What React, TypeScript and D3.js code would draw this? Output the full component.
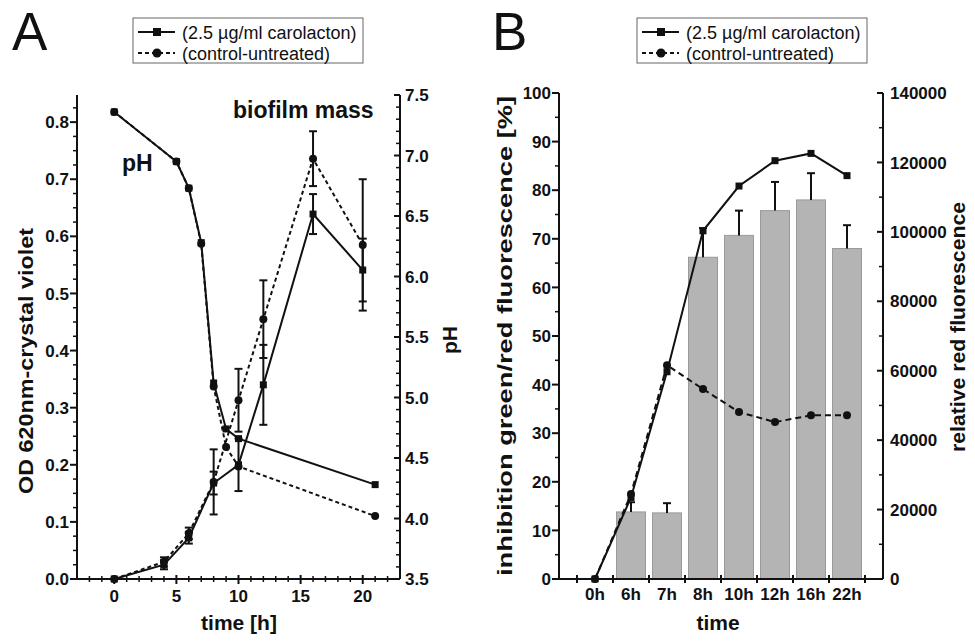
import React from "react";
import * as d3 from "d3";

// ---------- Panel A data ----------
const TIME_A = [0, 4, 6, 8, 10, 12, 16, 20];
const OD_CARO = [0, 0.025, 0.072, 0.168, 0.2, 0.34, 0.639, 0.541];
const OD_CARO_ERR = [0, 0.008, 0.01, 0.02, 0.046, 0.07, 0.035, 0.055];
const OD_CTRL = [0, 0.03, 0.08, 0.17, 0.313, 0.455, 0.736, 0.585];
const OD_CTRL_ERR = [0, 0.008, 0.01, 0.057, 0.055, 0.068, 0.048, 0.115];
const TIME_PH = [0, 5, 6, 7, 8, 9, 10, 21];
const PH_CARO = [7.36, 6.95, 6.73, 6.28, 5.12, 4.74, 4.66, 4.28];
const PH_CTRL = [7.36, 6.95, 6.73, 6.27, 5.09, 4.59, 4.43, 4.02];

const A_X_TICKS = [0, 5, 10, 15, 20];
const A_OD_TICKS = [0, 0.1, 0.2, 0.3, 0.4, 0.5, 0.6, 0.7, 0.8];
const A_PH_TICKS = [3.5, 4.0, 4.5, 5.0, 5.5, 6.0, 6.5, 7.0, 7.5];

// ---------- Panel B data ----------
const CATS_B = ["0h", "6h", "7h", "8h", "10h", "12h", "16h", "22h"];
const INHIB: (number | null)[] = [null, 13.8, 13.6, 66.2, 70.7, 75.8, 78.0, 68.0];
const INHIB_ERR: (number | null)[] = [null, 2.0, 2.0, 6.0, 5.1, 5.9, 5.5, 4.8];
const RED_CARO = [0, 23500, 59700, 100300, 113200, 120500, 122600, 116200];
const RED_CTRL = [0, 24500, 61600, 54700, 48100, 45200, 47150, 47150];

const B_PCT_TICKS = [0, 10, 20, 30, 40, 50, 60, 70, 80, 90, 100];
const B_RED_TICKS = [0, 20000, 40000, 60000, 80000, 100000, 120000, 140000];

const LEGEND = ["(2.5 µg/ml carolacton)", "(control-untreated)"];

const FONT = "'Liberation Sans', Arial, Helvetica, sans-serif";
const INK = "#111";

function Square({ x, y, s = 7 }: { x: number; y: number; s?: number }) {
  return <rect x={x - s / 2} y={y - s / 2} width={s} height={s} fill={INK} />;
}
function Dot({ x, y, r = 4 }: { x: number; y: number; r?: number }) {
  return <circle cx={x} cy={y} r={r} fill={INK} />;
}

function Legend({ x, y }: { x: number; y: number }) {
  return (
    <g transform={`translate(${x},${y})`}>
      <rect x={0} y={0} width={230} height={45} fill="#fff" stroke="#666" strokeWidth={1} />
      <line x1={5} x2={42} y1={14} y2={14} stroke={INK} strokeWidth={2} />
      <Square x={24} y={14} s={8} />
      <line x1={5} x2={42} y1={35} y2={35} stroke={INK} strokeWidth={2} strokeDasharray="4,3" />
      <Dot x={24} y={35} r={4.5} />
      <text x={49} y={20.5} fontSize={18} fontFamily={FONT} fill={INK}>{LEGEND[0]}</text>
      <text x={49} y={41.5} fontSize={18} fontFamily={FONT} fill={INK}>{LEGEND[1]}</text>
    </g>
  );
}

function PanelA() {
  const left = 77, right = 400, top = 95, bottom = 579;
  const x = d3.scaleLinear().domain([-3, 23]).range([left, right]);
  const yOD = d3.scaleLinear().domain([0, 0.8475]).range([bottom, top]);
  const yPH = d3.scaleLinear().domain([3.5, 7.5]).range([bottom, top]);

  const odLine = d3.line<[number, number]>().x((d) => x(d[0])).y((d) => yOD(d[1]));
  const phLine = d3.line<[number, number]>().x((d) => x(d[0])).y((d) => yPH(d[1]));

  const odCaro = TIME_A.map((t, i) => [t, OD_CARO[i]] as [number, number]);
  const odCtrl = TIME_A.map((t, i) => [t, OD_CTRL[i]] as [number, number]);
  const phCaro = TIME_PH.map((t, i) => [t, PH_CARO[i]] as [number, number]);
  const phCtrl = TIME_PH.map((t, i) => [t, PH_CTRL[i]] as [number, number]);

  const xMinor = d3.range(-2, 23, 1).filter((v) => v % 5 !== 0);
  const odMinor = d3.range(0, 0.8475, 0.025).filter((_, i) => i % 4 !== 0);
  const phMinor = d3.range(3.5, 7.5, 0.1).filter((_, i) => i % 5 !== 0);

  const errBar = (t: number, v: number, e: number, key: string) => {
    if (!e) return null;
    const cx = x(t);
    const y1 = yOD(v - e), y2 = yOD(v + e);
    return (
      <g key={key} stroke={INK} strokeWidth={2}>
        <line x1={cx} x2={cx} y1={y1} y2={y2} />
        <line x1={cx - 4} x2={cx + 4} y1={y1} y2={y1} />
        <line x1={cx - 4} x2={cx + 4} y1={y2} y2={y2} />
      </g>
    );
  };

  return (
    <g fontFamily={FONT}>
      <text x={12} y={50} fontSize={53} fill={INK}>A</text>
      <Legend x={133} y={18} />

      {/* axes */}
      <g stroke={INK} strokeWidth={2} fill="none">
        <line x1={left} x2={left} y1={top} y2={bottom} />
        <line x1={right} x2={right} y1={top} y2={bottom} />
        <line x1={left} x2={right} y1={bottom} y2={bottom} />
        {A_X_TICKS.map((v) => (
          <line key={"xm" + v} x1={x(v)} x2={x(v)} y1={bottom - 4} y2={bottom + 5} />
        ))}
        {xMinor.map((v) => (
          <line key={"xn" + v} x1={x(v)} x2={x(v)} y1={bottom - 3} y2={bottom + 3} strokeWidth={1.5} />
        ))}
        {A_OD_TICKS.map((v) => (
          <line key={"ym" + v} x1={left - 7} x2={left} y1={yOD(v)} y2={yOD(v)} />
        ))}
        {odMinor.map((v, i) => (
          <line key={"yn" + i} x1={left - 4} x2={left} y1={yOD(v)} y2={yOD(v)} strokeWidth={1.5} />
        ))}
        {A_PH_TICKS.map((v) => (
          <line key={"pm" + v} x1={right - 6} x2={right} y1={yPH(v)} y2={yPH(v)} />
        ))}
        {phMinor.map((v, i) => (
          <line key={"pn" + i} x1={right - 4} x2={right} y1={yPH(v)} y2={yPH(v)} strokeWidth={1.5} />
        ))}
      </g>

      <g fontSize={17} fontWeight="bold" fill={INK}>
        {A_X_TICKS.map((v) => (
          <text key={"xl" + v} x={x(v)} y={602} textAnchor="middle">{v}</text>
        ))}
        {A_OD_TICKS.map((v) => (
          <text key={"yl" + v} x={69} y={yOD(v)} dy="0.36em" textAnchor="end">{v.toFixed(1)}</text>
        ))}
        {A_PH_TICKS.map((v) => (
          <text key={"pl" + v} x={405} y={yPH(v)} dy="0.36em" textAnchor="start">{v.toFixed(1)}</text>
        ))}
      </g>

      <g fontSize={21} fontWeight="bold" fill={INK}>
        <text x={239} y={630} textAnchor="middle">time [h]</text>
        <text
          transform="translate(33,361) rotate(-90)"
          textAnchor="middle"
          textLength={266}
          lengthAdjust="spacingAndGlyphs"
        >
          OD 620nm-crystal violet
        </text>
        <text transform="translate(457,340) rotate(-90)" textAnchor="middle">pH</text>
      </g>
      <g fontSize={23} fontWeight="bold" fill={INK}>
        <text x={122} y={171}>pH</text>
        <text x={233} y={118}>biofilm mass</text>
      </g>

      {/* lines */}
      <g fill="none" stroke={INK} strokeWidth={2}>
        <path d={phLine(phCaro) || ""} />
        <path d={phLine(phCtrl) || ""} strokeDasharray="4,3" />
        <path d={odLine(odCaro) || ""} />
        <path d={odLine(odCtrl) || ""} strokeDasharray="4,3" />
      </g>

      {TIME_A.map((t, i) => errBar(t, OD_CARO[i], OD_CARO_ERR[i], "ec" + i))}
      {TIME_A.map((t, i) => errBar(t, OD_CTRL[i], OD_CTRL_ERR[i], "et" + i))}

      {phCaro.map((d, i) => <Square key={"ps" + i} x={x(d[0])} y={yPH(d[1])} />)}
      {phCtrl.map((d, i) => <Dot key={"pc" + i} x={x(d[0])} y={yPH(d[1])} />)}
      {odCaro.map((d, i) => <Square key={"os" + i} x={x(d[0])} y={yOD(d[1])} />)}
      {odCtrl.map((d, i) => <Dot key={"oc" + i} x={x(d[0])} y={yOD(d[1])} />)}
    </g>
  );
}

function PanelB() {
  const left = 559, right = 883, top = 93, bottom = 579;
  const x = d3.scaleLinear().domain([-1, 8]).range([left, right]);
  const yPct = d3.scaleLinear().domain([0, 100]).range([bottom, top]);
  const yRed = d3.scaleLinear().domain([0, 140000]).range([bottom, top]);
  const barW = 29;

  const line = d3.line<[number, number]>().x((d) => x(d[0])).y((d) => yRed(d[1]));
  const caro = RED_CARO.map((v, i) => [i, v] as [number, number]);
  const ctrl = RED_CTRL.map((v, i) => [i, v] as [number, number]);

  const xTicks = d3.range(-0.5, 8, 1);
  const pctMinor = d3.range(5, 100, 10);
  const redMinor = d3.range(10000, 140000, 20000);

  return (
    <g fontFamily={FONT}>
      <text x={492} y={50} fontSize={53} fill={INK}>B</text>
      <Legend x={637} y={18} />

      {/* bars */}
      {CATS_B.map((c, i) => {
        const v = INHIB[i];
        if (v == null) return null;
        return (
          <rect
            key={"b" + c}
            x={x(i) - barW / 2}
            y={yPct(v)}
            width={barW}
            height={yPct(0) - yPct(v)}
            fill="#b4b4b4"
            stroke="#9a9a9a"
            strokeWidth={1}
          />
        );
      })}
      {CATS_B.map((c, i) => {
        const v = INHIB[i];
        const e = INHIB_ERR[i];
        if (v == null || e == null) return null;
        const y1 = yPct(v), y2 = yPct(v + e);
        return (
          <g key={"e" + c} stroke={INK} strokeWidth={2}>
            <line x1={x(i)} x2={x(i)} y1={y1} y2={y2} />
            <line x1={x(i) - 4} x2={x(i) + 4} y1={y2} y2={y2} />
          </g>
        );
      })}

      {/* axes */}
      <g stroke={INK} strokeWidth={2} fill="none">
        <line x1={left} x2={left} y1={top} y2={bottom} />
        <line x1={right} x2={right} y1={top} y2={bottom} />
        <line x1={left} x2={right} y1={bottom} y2={bottom} />
        {xTicks.map((v) => (
          <line key={"xt" + v} x1={x(v)} x2={x(v)} y1={bottom - 4} y2={bottom + 4} />
        ))}
        {B_PCT_TICKS.map((v) => (
          <line key={"pm" + v} x1={left - 7} x2={left} y1={yPct(v)} y2={yPct(v)} />
        ))}
        {pctMinor.map((v) => (
          <line key={"pn" + v} x1={left - 4} x2={left} y1={yPct(v)} y2={yPct(v)} strokeWidth={1.5} />
        ))}
        {B_RED_TICKS.map((v) => (
          <line key={"rm" + v} x1={right - 6} x2={right} y1={yRed(v)} y2={yRed(v)} />
        ))}
        {redMinor.map((v) => (
          <line key={"rn" + v} x1={right - 4} x2={right} y1={yRed(v)} y2={yRed(v)} strokeWidth={1.5} />
        ))}
      </g>

      <g fontSize={17} fontWeight="bold" fill={INK}>
        {CATS_B.map((c, i) => (
          <text key={"xl" + c} x={x(i)} y={600} textAnchor="middle">{c}</text>
        ))}
        {B_PCT_TICKS.map((v) => (
          <text key={"pl" + v} x={551} y={yPct(v)} dy="0.36em" textAnchor="end">{v}</text>
        ))}
        {B_RED_TICKS.map((v) => (
          <text key={"rl" + v} x={890} y={yRed(v)} dy="0.36em" textAnchor="start">{v}</text>
        ))}
      </g>

      <g fontSize={21} fontWeight="bold" fill={INK}>
        <text x={718} y={630} textAnchor="middle">time</text>
        <text
          transform="translate(512,336) rotate(-90)"
          textAnchor="middle"
          textLength={480}
          lengthAdjust="spacingAndGlyphs"
        >
          inhibition green/red fluorescence [%]
        </text>
        <text
          transform="translate(965,327) rotate(-90)"
          textAnchor="middle"
          textLength={250}
          lengthAdjust="spacingAndGlyphs"
        >
          relative red fluorescence
        </text>
      </g>

      <g fill="none" stroke={INK} strokeWidth={2}>
        <path d={line(caro) || ""} />
        <path d={line(ctrl) || ""} strokeDasharray="6,4" />
      </g>
      {caro.map((d, i) => <Square key={"s" + i} x={x(d[0])} y={yRed(d[1])} />)}
      {ctrl.map((d, i) => <Dot key={"c" + i} x={x(d[0])} y={yRed(d[1])} />)}
    </g>
  );
}

export default function App() {
  return (
    <div style={{ position: "absolute", left: 0, top: 0 }}>
      <svg width={975} height={641} style={{ display: "block", background: "#fff" }}>
        <rect width={975} height={641} fill="#fff" />
        <PanelA />
        <PanelB />
      </svg>
    </div>
  );
}
